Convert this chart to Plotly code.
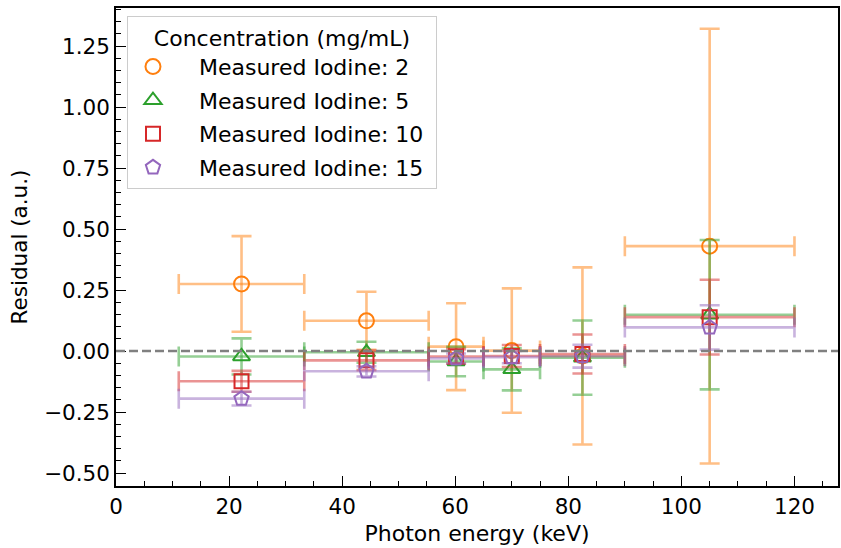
import plotly.graph_objects as go

# ---- data ----
energy_keV = [22.2, 44.3, 60.15, 70.0, 82.5, 105.0]
energy_halfwidth = [11.1, 11.0, 4.85, 5.0, 7.5, 15.0]

labels = ["Measured Iodine: 2", "Measured Iodine: 5", "Measured Iodine: 10", "Measured Iodine: 15"]

resid_2 = [0.275, 0.124, 0.018, 0.002, -0.020, 0.430]
err_2 = [0.196, 0.119, 0.178, 0.255, 0.363, 0.891]

resid_5 = [-0.022, -0.005, -0.043, -0.075, -0.027, 0.149]
err_5 = [0.074, 0.043, 0.060, 0.086, 0.152, 0.306]

resid_10 = [-0.124, -0.038, -0.022, -0.020, -0.012, 0.139]
err_10 = [0.043, 0.040, 0.030, 0.045, 0.080, 0.153]

resid_15 = [-0.195, -0.083, -0.030, -0.025, -0.021, 0.097]
err_15 = [0.028, 0.021, 0.020, 0.025, 0.047, 0.091]

x_ticks = [0, 20, 40, 60, 80, 100, 120]
y_ticks = [-0.50, -0.25, 0.00, 0.25, 0.50, 0.75, 1.00, 1.25]

# ---- style ----
FONT = "DejaVu Sans"
FS = 21.5
PAD = "\u00a0\u00a0\u00a0"
series = [
    (labels[0], resid_2, err_2, "#ff7f0e", "rgba(255,127,14,0.5)", "circle-open", 15),
    (labels[1], resid_5, err_5, "#2ca02c", "rgba(44,160,44,0.5)", "triangle-up-open", 15),
    (labels[2], resid_10, err_10, "#d62728", "rgba(214,39,40,0.5)", "square-open", 14),
    (labels[3], resid_15, err_15, "#9467bd", "rgba(148,103,189,0.5)", "pentagon-open", 15),
]

fig = go.Figure()
for i, (name, y, e, mc, ec, sym, sz) in enumerate(series):
    fig.add_trace(go.Scatter(
        x=energy_keV, y=y, mode="markers", name=PAD + name + "\u00a0",
        legendgroup=f"g{i}",
        marker=dict(symbol=sym, size=sz, color=mc, line=dict(width=2, color=mc)),
        error_y=dict(type="data", array=e, visible=True, color=ec, thickness=2.6, width=10),
        error_x=dict(type="data", array=energy_halfwidth, visible=True, color=ec, thickness=2.6, width=10),
    ))

fig.add_shape(type="line", xref="paper", x0=0, x1=1, yref="y", y0=0, y1=0,
              line=dict(color="gray", width=2.5, dash="9px,4px"), layer="above")

fig.update_layout(
    width=841, height=548,
    margin=dict(l=116, r=1, t=8, b=62),
    paper_bgcolor="white", plot_bgcolor="white",
    font=dict(family=FONT, size=FS, color="black"),
    showlegend=True,
    legend=dict(
        x=0.0152, y=0.983, xanchor="left", yanchor="top",
        bgcolor="rgba(255,255,255,0.8)", bordercolor="#cccccc", borderwidth=1,
        title=dict(text="Concentration (mg/mL)", side="top center", font=dict(size=22)),
        font=dict(size=22), tracegroupgap=2, itemwidth=40,
    ),
    xaxis=dict(
        range=[0, 127.7], tickvals=x_ticks, ticktext=[str(v) for v in x_ticks],
        ticks="inside", ticklen=10, tickwidth=1.3, tickcolor="black",
        minor=dict(dtick=5, ticks="inside", ticklen=5, tickwidth=1.1, tickcolor="black"),
        showline=True, linecolor="black", linewidth=1.5, mirror=True,
        showgrid=False, zeroline=False,
        title=dict(text="Photon energy (keV)", standoff=8, font=dict(size=22)),
    ),
    yaxis=dict(
        range=[-0.553, 1.406], tickvals=y_ticks, tickformat=".2f",
        ticks="inside", ticklen=10, tickwidth=1.3, tickcolor="black",
        minor=dict(dtick=0.05, tick0=0, ticks="inside", ticklen=5, tickwidth=1.1, tickcolor="black"),
        showline=True, linecolor="black", linewidth=1.5, mirror=True,
        showgrid=False, zeroline=False,
        title=dict(text="Residual (a.u.)", standoff=11, font=dict(size=21.5)),
    ),
)

fig.write_html("out.html", config={"displayModeBar": False},
               post_script="document.body.style.margin='0px';")
